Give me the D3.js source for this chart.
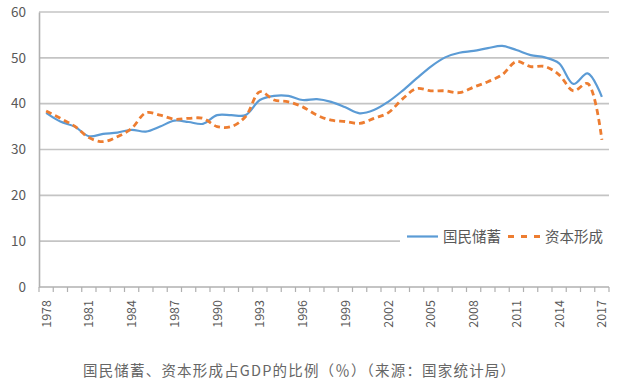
<!DOCTYPE html>
<html><head><meta charset="utf-8">
<script src="https://cdn.jsdelivr.net/npm/d3@7"></script>
<style>body{margin:0;background:#fff;} svg{display:block;}</style>
</head><body>
<svg id="c" width="622" height="381"></svg>
<script>
const years = d3.range(1978, 2018).map(String);
const savings = [38.0,36.1,35.0,32.9,33.4,33.7,34.3,33.9,35.0,36.3,36.0,35.6,37.5,37.5,37.5,40.8,41.7,41.7,40.8,41.0,40.4,39.2,37.9,38.6,40.4,42.8,45.5,48.1,50.1,51.1,51.5,52.1,52.6,51.7,50.6,50.1,48.8,44.3,46.6,41.5];
const capital = [38.4,36.8,35.1,32.6,31.7,32.8,34.6,38.0,37.5,36.6,36.8,36.8,35.0,35.0,37.2,42.6,40.8,40.4,39.3,37.5,36.4,36.1,35.7,36.8,38.0,41.0,43.3,42.8,42.8,42.4,43.6,44.8,46.3,49.2,48.1,48.1,46.3,42.8,44.4,32.1];
const yTicks = [0,10,20,30,40,50,60];
const xLabelYears = years.filter((d,i)=>i%3===0);
const seriesNames = ["国民储蓄","资本形成"];
const caption = "国民储蓄、资本形成占GDP的比例（％）（来源：国家统计局）";

const svg = d3.select("#c");
const L=39, R=609, T=12, B=287;
const x = d3.scaleBand().domain(years).range([L,R]);
const y = d3.scaleLinear().domain([0,60]).range([B,T]);
const font = "'Noto Sans CJK SC','Noto Sans',sans-serif";

// grid
svg.append("g").selectAll("line").data(yTicks.filter(d=>d>0)).join("line")
  .attr("x1",L).attr("x2",R).attr("y1",d=>y(d)).attr("y2",d=>y(d))
  .attr("stroke","#c4c4c4").attr("stroke-width",1.6);

// y axis
const ya = svg.append("g").attr("transform",`translate(${L},0)`)
  .call(d3.axisLeft(y).tickValues(yTicks).tickSize(0).tickPadding(13));
ya.select(".domain").attr("stroke","#b0b0b0").attr("stroke-width",1.6);
ya.selectAll("text").attr("font-family",font).attr("font-size",13.5).attr("fill","#595959");

// x axis
const xa = svg.append("g").attr("transform",`translate(0,${B})`);
xa.append("line").attr("x1",L).attr("x2",R).attr("stroke","#b0b0b0").attr("stroke-width",1.6);
xa.selectAll("line.t").data(years.concat(["end"])).join("line").attr("class","t")
  .attr("x1",(d,i)=>L+i*x.bandwidth()).attr("x2",(d,i)=>L+i*x.bandwidth())
  .attr("y1",0).attr("y2",5).attr("stroke","#b0b0b0").attr("stroke-width",1.2);
xa.selectAll("text").data(xLabelYears).join("text")
  .attr("transform",d=>`translate(${x(d)+x.bandwidth()/2+4.5},13) rotate(-90)`)
  .attr("text-anchor","end").attr("font-family",font).attr("font-size",12.5).attr("fill","#595959")
  .text(d=>d);

// lines
const cx = (d,i)=>x(years[i])+x.bandwidth()/2;
const lineGen = d3.line().x((d,i)=>cx(d,i)).y(d=>y(d)).curve(d3.curveCatmullRom.alpha(0.5));
svg.append("path").datum(savings).attr("d",lineGen).attr("fill","none")
  .attr("stroke","#5b9bd5").attr("stroke-width",2.2).attr("stroke-linejoin","round");
svg.append("path").datum(capital).attr("d",lineGen).attr("fill","none")
  .attr("stroke","#ed7d31").attr("stroke-width",2.8).attr("stroke-dasharray","6,4");

// legend
const lg = svg.append("g");
lg.append("rect").attr("x",400).attr("y",226).attr("width",214).attr("height",22).attr("fill","#fff");
lg.append("line").attr("x1",407).attr("x2",438).attr("y1",236.5).attr("y2",236.5).attr("stroke","#5b9bd5").attr("stroke-width",2.2);
lg.append("text").attr("x",443).attr("y",241.5).attr("font-family",font).attr("font-size",14.5).attr("fill","#595959").text(seriesNames[0]);
lg.append("line").attr("x1",508).attr("x2",541).attr("y1",236.5).attr("y2",236.5).attr("stroke","#ed7d31").attr("stroke-width",2.8).attr("stroke-dasharray","6,7");
lg.append("text").attr("x",545).attr("y",241.5).attr("font-family",font).attr("font-size",14.5).attr("fill","#595959").text(seriesNames[1]);

// caption
svg.append("text").attr("x",299).attr("y",376).attr("text-anchor","middle")
  .attr("textLength",432).attr("lengthAdjust","spacing")
  .attr("font-family",font).attr("font-size",14.5).attr("fill","#666").text(caption);
</script>
</body></html>
